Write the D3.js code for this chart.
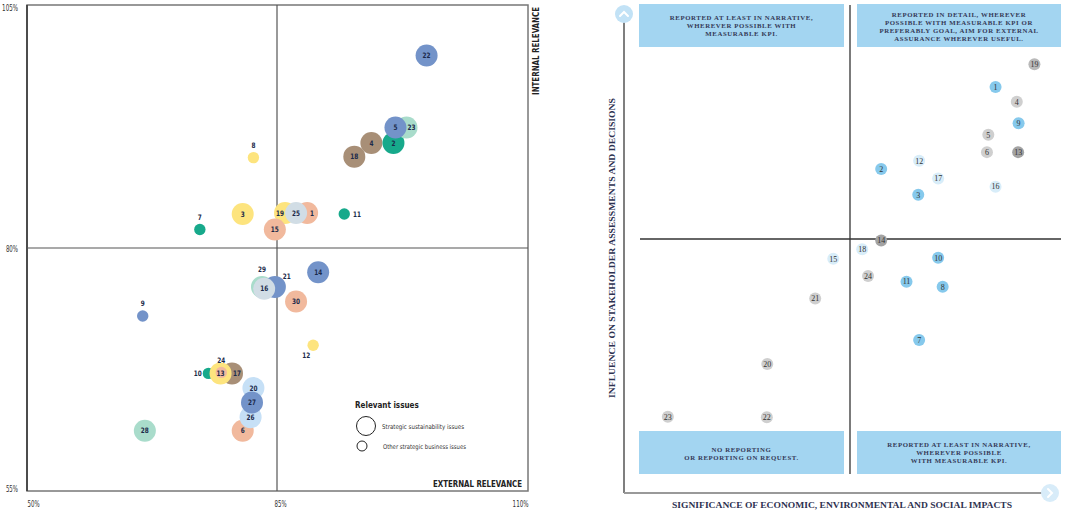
<!DOCTYPE html>
<html>
<head>
<meta charset="utf-8">
<script src="https://cdn.jsdelivr.net/npm/d3@7"></script>
<style>
body { margin: 0; background: #fff; }
#chart { width: 1077px; height: 510px; }
.cond { font-family: "Liberation Sans Narrow", "DejaVu Sans Condensed", "Roboto Condensed", "Arial Narrow", Roboto, sans-serif; font-stretch: condensed; }
.serif { font-family: "Liberation Serif", "DejaVu Serif", serif; }
</style>
</head>
<body>
<div id="chart"></div>
<script>
/* LEFT PANEL: MATERIALITY MATRIX (external vs internal relevance, %) */
const issueIds    = [28, 9, 7, 8, 6, 26, 20, 27, 10, 17, 13, 24, 12, 29, 21, 16, 30, 14, 19, 1, 25, 15, 3, 11, 18, 4, 2, 23, 5, 22];
const externalRel = [66.5, 66.2, 74.2, 81.7, 80.2, 81.3, 81.7, 81.5, 75.4, 78.7, 77.1, 77.2, 88.6, 82.9, 84.7, 83.2, 86.9, 89.1, 85.8, 88.0, 86.9, 84.7, 80.2, 91.7, 92.7, 94.4, 96.6, 97.9, 96.8, 99.9];
const internalRel = [61.2, 73.0, 81.9, 89.3, 61.2, 62.6, 65.6, 64.1, 67.1, 67.1, 67.1, 67.2, 70.0, 76.0, 76.0, 75.8, 74.5, 77.5, 83.6, 83.6, 83.6, 81.9, 83.5, 83.5, 89.4, 90.8, 90.8, 92.4, 92.4, 99.8];
const issueType   = ["strategic", "other", "other", "other", "strategic", "strategic", "strategic", "strategic", "other", "strategic",
                     "strategic", "other", "other", "strategic", "strategic", "strategic", "strategic", "strategic", "strategic", "strategic",
                     "strategic", "strategic", "strategic", "other", "strategic", "strategic", "strategic", "strategic", "strategic", "strategic"];
const issueGroup  = ["mint", "blue", "teal", "yellow", "salmon", "sky", "sky", "blue", "teal", "tan",
                     "yellow", "salmon", "yellow", "mint", "blue", "grey", "salmon", "blue", "yellow", "salmon",
                     "grey", "salmon", "yellow", "teal", "tan", "tan", "teal", "mint", "blue", "blue"];
const xTicks = [50, 85, 110];
const yTicks = [55, 80, 105];

/* RIGHT PANEL: REPORTING MATRIX (0-10 scales) */
const topicIds     = [19, 1, 4, 9, 5, 6, 13, 12, 2, 17, 16, 3, 14, 18, 15, 10, 24, 11, 8, 21, 7, 20, 23, 22];
const significance = [9.08, 8.22, 8.69, 8.73, 8.06, 8.03, 8.72, 6.53, 5.69, 6.95, 8.22, 6.51, 5.69, 5.27, 4.63, 6.95, 5.40, 6.25, 7.05, 4.23, 6.53, 3.17, 0.97, 3.16];
const influence    = [8.44, 7.99, 7.70, 7.28, 7.05, 6.71, 6.71, 6.54, 6.38, 6.19, 6.03, 5.87, 4.97, 4.80, 4.61, 4.63, 4.27, 4.16, 4.06, 3.83, 3.01, 2.54, 1.50, 1.49];
const topicTone    = ["mid", "sky", "grey", "sky", "grey", "grey", "dark", "pale", "sky", "pale", "pale", "sky", "dark", "pale", "pale", "sky",
                      "grey", "sky", "sky", "grey", "sky", "grey", "grey", "grey"];
const quadrantText = [
    ["REPORTED AT LEAST IN NARRATIVE,", "WHEREVER POSSIBLE WITH", "MEASURABLE KPI."],
    ["REPORTED IN DETAIL, WHEREVER", "POSSIBLE WITH MEASURABLE KPI OR", "PREFERABLY GOAL, AIM FOR EXTERNAL", "ASSURANCE WHEREVER USEFUL."],
    ["NO REPORTING", "OR REPORTING ON REQUEST."],
    ["REPORTED AT LEAST IN NARRATIVE,", "WHEREVER POSSIBLE", "WITH MEASURABLE KPI."]
];

const width = 1077, height = 510;
const svg = d3.select("#chart").append("svg")
    .attr("width", width)
    .attr("height", height);

/* ---------- left panel ---------- */
const xL = d3.scaleLinear().domain([50, 85, 110]).range([27, 277, 528]);
const yL = d3.scaleLinear().domain([55, 80, 105]).range([491, 248, 5]);
const rL = d3.scaleOrdinal().domain(["strategic", "other"]).range([11, 5.7]);
const groupColor = d3.scaleOrdinal()
    .domain(["blue", "teal", "mint", "tan", "yellow", "salmon", "grey", "sky"])
    .range(["#7393c9", "#17a98b", "#a9dccb", "#a88f77", "#fde47e", "#f1b99d", "#d1dde5", "#c6e0f6"]);

const left = svg.append("g");

left.append("rect")
    .attr("x", xL(50)).attr("y", yL(105))
    .attr("width", xL(110) - xL(50)).attr("height", yL(55) - yL(105))
    .attr("fill", "none").attr("stroke", "#777").attr("stroke-width", 1.5);
left.append("line")
    .attr("x1", xL(50)).attr("x2", xL(50)).attr("y1", yL(105)).attr("y2", yL(55))
    .attr("stroke", "#333").attr("stroke-width", 1.5);
left.append("line")
    .attr("x1", xL(85)).attr("x2", xL(85)).attr("y1", yL(105)).attr("y2", yL(55))
    .attr("stroke", "#555").attr("stroke-width", 1.2);
left.append("line")
    .attr("x1", xL(50)).attr("x2", xL(110)).attr("y1", yL(80)).attr("y2", yL(80))
    .attr("stroke", "#555").attr("stroke-width", 1.2);

const xAxis = left.append("g")
    .attr("class", "cond")
    .attr("transform", `translate(0,${yL(55)})`)
    .call(d3.axisBottom(xL).tickValues(xTicks).tickSize(0).tickPadding(10).tickFormat(d => d + "%"));
xAxis.select(".domain").remove();
xAxis.selectAll("text")
    .attr("font-size", 8.5).attr("fill", "#333")
    .attr("textLength", d => String(d).length * 3.8 + 4.5).attr("lengthAdjust", "spacingAndGlyphs")
    .attr("text-anchor", d => d === 50 ? "start" : d === 110 ? "end" : "middle")
    .attr("dx", d => d === 85 ? 3 : 0);

const yAxis = left.append("g")
    .attr("class", "cond")
    .attr("transform", `translate(${xL(50)},0)`)
    .call(d3.axisLeft(yL).tickValues(yTicks).tickSize(0).tickPadding(9).tickFormat(d => d + "%"));
yAxis.select(".domain").remove();
yAxis.selectAll("text")
    .attr("font-size", 8.5).attr("fill", "#333")
    .attr("textLength", d => String(d).length * 3.8 + 4.5).attr("lengthAdjust", "spacingAndGlyphs")
    .attr("dy", d => d === 105 ? "0.7em" : d === 55 ? "0.1em" : "0.4em");

left.append("text")
    .attr("class", "cond")
    .attr("transform", `translate(539,${yL(105) + 90}) rotate(-90)`)
    .attr("font-size", 8.5).attr("font-weight", "bold").attr("fill", "#222")
    .attr("textLength", 88).attr("lengthAdjust", "spacingAndGlyphs")
    .text("INTERNAL RELEVANCE");

left.append("text")
    .attr("class", "cond")
    .attr("x", 522).attr("y", 487)
    .attr("text-anchor", "end")
    .attr("font-size", 8.5).attr("font-weight", "bold").attr("fill", "#222")
    .attr("textLength", 89).attr("lengthAdjust", "spacingAndGlyphs")
    .text("EXTERNAL RELEVANCE");

// bubbles
const issues = issueIds.map((id, i) => ({
    id: id, ext: externalRel[i], int: internalRel[i], type: issueType[i], group: issueGroup[i]
}));

// where a label sits when it is not centred on its bubble
const labelPlace = { 23: "cr", 1: "cr", 19: "cl", 17: "cr", 21: "tr", 29: "t", 8: "t", 7: "t", 9: "t", 24: "t", 11: "r", 10: "l", 12: "bl" };

left.append("g")
    .selectAll("circle")
    .data(issues)
    .enter()
    .append("circle")
        .attr("cx", d => xL(d.ext))
        .attr("cy", d => yL(d.int))
        .attr("r", d => rL(d.type))
        .attr("fill", d => groupColor(d.group));

left.append("g")
    .attr("class", "cond")
    .selectAll("text")
    .data(issues)
    .enter()
    .append("text")
        .attr("font-size", 7.5)
        .attr("font-weight", "bold")
        .attr("fill", "#1b2a4a")
        .attr("dy", "0.35em")
        .attr("textLength", d => String(d.id).length * 4)
        .attr("lengthAdjust", "spacingAndGlyphs")
        .attr("text-anchor", d => labelPlace[d.id] === "r" ? "start" : labelPlace[d.id] === "l" ? "end" : "middle")
        .attr("x", d => {
            let cx = xL(d.ext), r = rL(d.type), p = labelPlace[d.id];
            if (p === "cr") return cx + 5;
            if (p === "cl") return cx - 5;
            if (p === "tr") return cx + 12;
            if (p === "r") return cx + r + 3;
            if (p === "l") return cx - r - 1;
            if (p === "bl") return cx - 7;
            return cx;
        })
        .attr("y", d => {
            let cy = yL(d.int), r = rL(d.type), p = labelPlace[d.id];
            if (p === "t") return cy - r - 6.5;
            if (p === "tr") return cy - 11;
            if (p === "bl") return cy + 10;
            return cy;
        })
        .text(d => d.id);

// legend
const legend = left.append("g").attr("class", "cond");
legend.append("text")
    .attr("x", 355).attr("y", 408)
    .attr("font-size", 8).attr("font-weight", "bold").attr("fill", "#222")
    .text("Relevant issues");
legend.append("circle")
    .attr("cx", 366).attr("cy", 426).attr("r", 9.5)
    .attr("fill", "none").attr("stroke", "#222").attr("stroke-width", 1);
legend.append("circle")
    .attr("cx", 362).attr("cy", 446).attr("r", 5)
    .attr("fill", "none").attr("stroke", "#222").attr("stroke-width", 1);
legend.append("text")
    .attr("x", 382).attr("y", 428.5)
    .attr("font-size", 6.5).attr("fill", "#333")
    .attr("textLength", 82).attr("lengthAdjust", "spacingAndGlyphs")
    .text("Strategic sustainability issues");
legend.append("text")
    .attr("x", 383).attr("y", 448.5)
    .attr("font-size", 6.5).attr("fill", "#333")
    .attr("textLength", 83).attr("lengthAdjust", "spacingAndGlyphs")
    .text("Other strategic business issues");

/* ---------- right panel ---------- */
const xR = d3.scaleLinear().domain([0, 10]).range([624, 1076]);
const yR = d3.scaleLinear().domain([0, 10]).range([493, -15]);
const toneColor = d3.scaleOrdinal()
    .domain(["sky", "pale", "grey", "mid", "dark"])
    .range(["#86c9ec", "#d8edf9", "#cfcfcf", "#b9b9b9", "#a3a3a3"]);

const right = svg.append("g");

// quadrant boxes
const boxes = [
    { x0: 639, x1: 844, y0: 4, y1: 47, lines: quadrantText[0], top: 18 },
    { x0: 857, x1: 1061, y0: 4, y1: 47, lines: quadrantText[1], top: 15 },
    { x0: 639, x1: 844, y0: 431, y1: 474, lines: quadrantText[2], top: 449.5 },
    { x0: 857, x1: 1061, y0: 431, y1: 474, lines: quadrantText[3], top: 444.5 }
];
boxes.forEach(b => {
    right.append("rect")
        .attr("x", b.x0).attr("y", b.y0)
        .attr("width", b.x1 - b.x0).attr("height", b.y1 - b.y0)
        .attr("fill", "#a3d5f1");
    right.append("g")
        .attr("class", "serif")
        .selectAll("text")
        .data(b.lines)
        .enter()
        .append("text")
            .attr("x", (b.x0 + b.x1) / 2)
            .attr("y", (d, i) => b.top + i * 8)
            .attr("dy", "0.35em")
            .attr("text-anchor", "middle")
            .attr("font-size", 6.8)
            .attr("letter-spacing", 0.6)
            .attr("font-weight", "bold")
            .attr("fill", "#353a58")
            .text(d => d);
});

// quadrant lines
right.append("line")
    .attr("x1", xR(5)).attr("x2", xR(5)).attr("y1", 5).attr("y2", 474)
    .attr("stroke", "#333").attr("stroke-width", 1.3);
right.append("line")
    .attr("x1", 640).attr("x2", 1061).attr("y1", yR(5)).attr("y2", yR(5))
    .attr("stroke", "#333").attr("stroke-width", 1.3);

// axes
right.append("line")
    .attr("x1", xR(0)).attr("x2", xR(0)).attr("y1", 22).attr("y2", yR(0))
    .attr("stroke", "#555").attr("stroke-width", 1.5);
right.append("line")
    .attr("x1", xR(0)).attr("x2", 1042).attr("y1", yR(0)).attr("y2", yR(0))
    .attr("stroke", "#999").attr("stroke-width", 1.8);

// arrow heads
right.append("circle").attr("cx", 624).attr("cy", 14).attr("r", 9).attr("fill", "#c2e2f6");
right.append("path").attr("d", "M620,16 L624,12 L628,16")
    .attr("fill", "none").attr("stroke", "#fff").attr("stroke-width", 2).attr("stroke-linecap", "round");
right.append("circle").attr("cx", 1050).attr("cy", 493).attr("r", 9).attr("fill", "#d8ecf9");
right.append("path").attr("d", "M1048,489 L1052,493 L1048,497")
    .attr("fill", "none").attr("stroke", "#fff").attr("stroke-width", 2).attr("stroke-linecap", "round");

right.append("text")
    .attr("class", "serif")
    .attr("transform", `translate(615,248) rotate(-90)`)
    .attr("text-anchor", "middle")
    .attr("font-size", 8.3).attr("font-weight", "bold").attr("fill", "#2d3150")
    .attr("textLength", 300).attr("lengthAdjust", "spacingAndGlyphs")
    .text("INFLUENCE ON STAKEHOLDER ASSESSMENTS AND DECISIONS");
right.append("text")
    .attr("class", "serif")
    .attr("x", 842).attr("y", 508)
    .attr("text-anchor", "middle")
    .attr("font-size", 8.3).attr("font-weight", "bold").attr("fill", "#2d3150")
    .attr("textLength", 340).attr("lengthAdjust", "spacingAndGlyphs")
    .text("SIGNIFICANCE OF ECONOMIC, ENVIRONMENTAL AND SOCIAL IMPACTS");

// points
const topics = topicIds.map((id, i) => ({ id: id, s: significance[i], f: influence[i], tone: topicTone[i] }));

const pts = right.append("g")
    .selectAll("g")
    .data(topics)
    .enter()
    .append("g")
        .attr("transform", d => `translate(${xR(d.s)},${yR(d.f)})`);
pts.append("circle")
    .attr("r", 6)
    .attr("fill", d => toneColor(d.tone));
pts.append("text")
    .attr("class", "serif")
    .attr("text-anchor", "middle")
    .attr("dy", "0.35em")
    .attr("font-size", 8)
    .attr("fill", "#333")
    .text(d => d.id);
</script>
</body>
</html>
